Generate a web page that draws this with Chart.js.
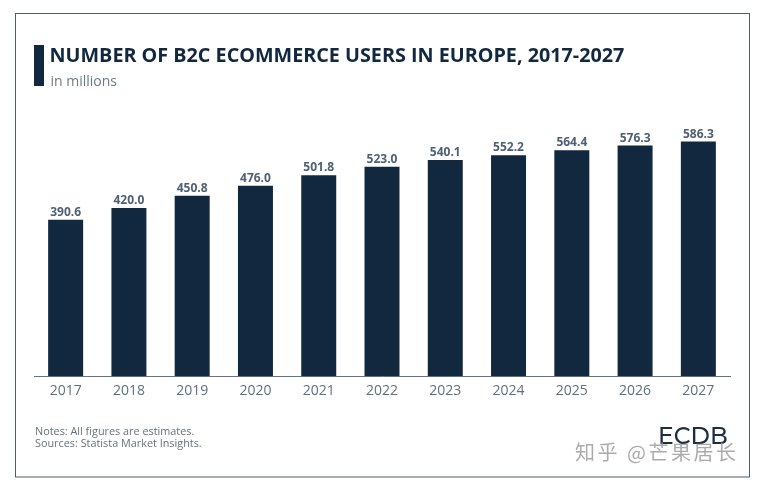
<!DOCTYPE html>
<html><head><meta charset="utf-8">
<style>html,body{margin:0;padding:0;background:#fff}#w{position:relative;width:757px;height:484px}canvas{display:block}</style>
<script src="https://cdn.jsdelivr.net/npm/chart.js@4"></script></head>
<body><div id="w"><canvas id="c" width="757" height="484"></canvas></div>
<script>
const years = ["2017","2018","2019","2020","2021","2022","2023","2024","2025","2026","2027"];
const users = [390.6,420.0,450.8,476.0,501.8,523.0,540.1,552.2,564.4,576.3,586.3];
const titleText = "NUMBER OF B2C ECOMMERCE USERS IN EUROPE, 2017-2027";
const subtitleText = "in millions";
const notes = ["Notes: All figures are estimates.","Sources: Statista Market Insights."];
const brand = "ECDB";
const watermark = "知乎 @芒果居长";
const NAVY = "#12283f", GREY = "#5f6f80";
const decor = {
  id:"decor",
  beforeDraw(ch){
    const c = ch.ctx; c.save();
    c.fillStyle="#fff"; c.fillRect(0,0,757,484);
    c.strokeStyle="#4d5f6b"; c.lineWidth=1; c.strokeRect(15.5,13.5,734,463.5);
    c.fillStyle=NAVY; c.fillRect(34,45,10,41);
    c.textBaseline="alphabetic"; c.textAlign="left";
    c.fillStyle=NAVY; c.font="bold 19.75px 'Open Sans'"; c.fillText(titleText,49.5,62);
    c.fillStyle="#6d7a86"; c.font="14px 'Open Sans'"; c.fillText(subtitleText,50.5,86);
    c.fillStyle="#66727e"; c.font="10.85px 'Open Sans'";
    c.fillText(notes[0],35,435); c.fillText(notes[1],35,447);
    c.restore();
  },
  afterDraw(ch){
    const c = ch.ctx, m = ch.getDatasetMeta(0); c.save();
    c.textAlign="center"; c.textBaseline="alphabetic";
    c.fillStyle="#4f6075"; c.font="bold 12px 'Open Sans'";
    m.data.forEach((b,i)=>c.fillText(users[i].toFixed(1),b.x,b.y-4));
    c.textAlign="left";
    c.fillStyle="#1c2f42"; c.font="500 23.5px Montserrat, 'Open Sans'"; c.fillText(brand,658,444);
    c.fillStyle="rgba(150,150,150,.8)"; c.font="20px 'Noto Sans CJK SC'"; c.letterSpacing="2.5px"; c.fillText(watermark,575,460);
    c.restore();
  }
};
new Chart(document.getElementById("c"),{
  type:"bar",
  data:{labels:years,datasets:[{data:users,backgroundColor:NAVY,categoryPercentage:1,barPercentage:0.553,borderWidth:0}]},
  options:{
    responsive:false,animation:false,devicePixelRatio:1,
    layout:{padding:{left:34,right:27,top:96,bottom:79}},
    plugins:{legend:{display:false},tooltip:{enabled:false},title:{display:false}},
    scales:{
      x:{grid:{display:false,drawTicks:false},border:{color:"#66727e",width:1},
         ticks:{color:GREY,font:{family:"'Open Sans'",size:14},padding:6,maxRotation:0}},
      y:{display:false,min:0,max:700}
    }
  },
  plugins:[decor]
});
</script></body></html>
